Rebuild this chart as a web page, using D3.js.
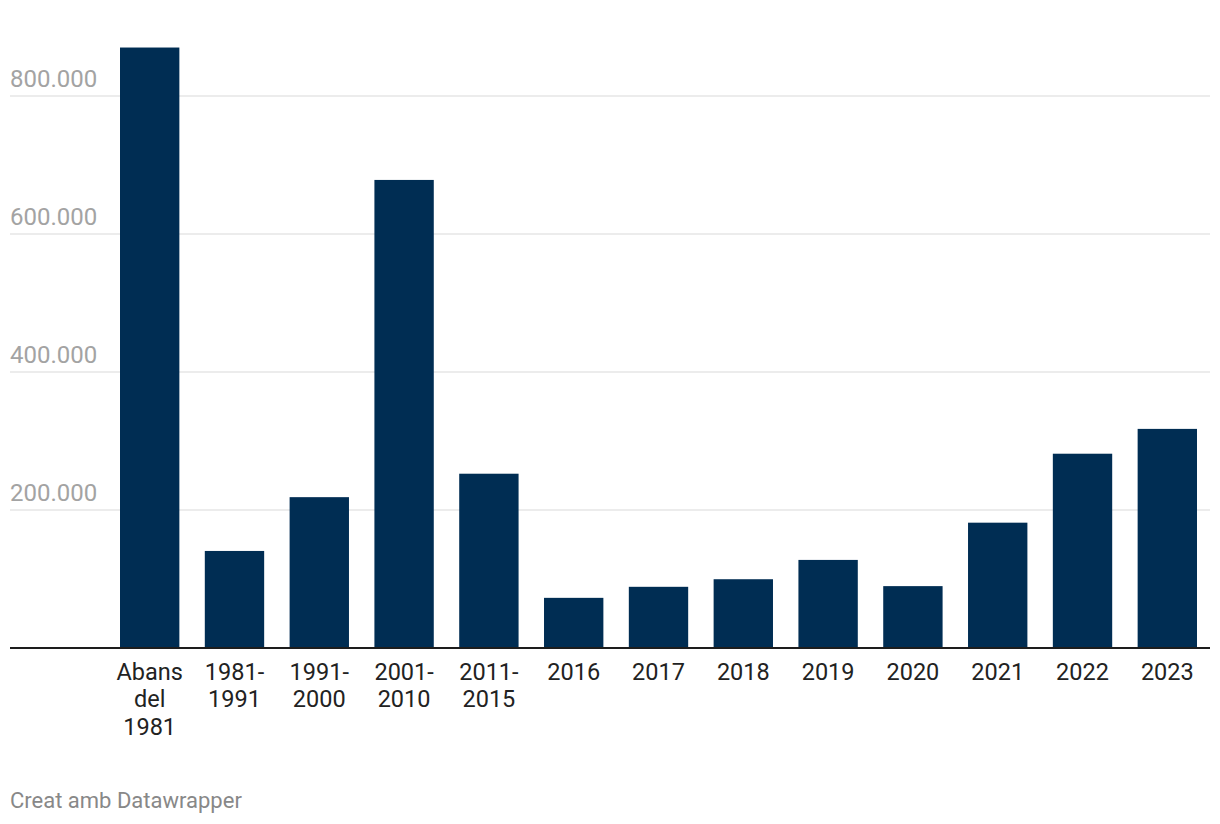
<!DOCTYPE html>
<html>
<head>
<meta charset="utf-8">
<script src="https://cdn.jsdelivr.net/npm/d3@7"></script>
<style>
  html, body { margin: 0; padding: 0; background: #fff; }
  svg { display: block; font-family: Roboto, "Noto Sans", sans-serif; }
</style>
</head>
<body>
<svg id="chart" width="1220" height="824"></svg>
<script>
const categories = ["Abans del 1981", "1981- 1991", "1991- 2000", "2001- 2010", "2011- 2015", "2016", "2017", "2018", "2019", "2020", "2021", "2022", "2023"];
const values = [870000, 140000, 218000, 678000, 252000, 72000, 88000, 99000, 127000, 89000, 181000, 281000, 317000];
const yTicks = [200000, 400000, 600000, 800000];
const tickLabels = ["200.000", "400.000", "600.000", "800.000"];
const footerText = "Creat amb Datawrapper";

const svg = d3.select("#chart");

const x = d3.scaleBand()
  .domain(categories)
  .range([120, 1197])
  .paddingInner(0.3)
  .paddingOuter(0);

const y = d3.scaleLinear()
  .domain([0, 800000])
  .range([647.5, 95.8]);

// gridlines
svg.append("g")
  .selectAll("line")
  .data(yTicks)
  .join("line")
  .attr("x1", 10)
  .attr("x2", 1210)
  .attr("y1", d => Math.round(y(d)))
  .attr("y2", d => Math.round(y(d)))
  .attr("stroke", "#e6e6e6")
  .attr("stroke-width", 1.6);

// tick labels
svg.append("g")
  .selectAll("text")
  .data(yTicks)
  .join("text")
  .attr("x", 10)
  .attr("y", d => y(d) - 9)
  .attr("fill", "#a3a3a3")
  .attr("font-size", 24)
  .text((d, i) => tickLabels[i]);

// bars
svg.append("g")
  .selectAll("rect")
  .data(values)
  .join("rect")
  .attr("x", (d, i) => x(categories[i]))
  .attr("width", x.bandwidth())
  .attr("y", d => y(d))
  .attr("height", d => y(0) - y(d))
  .attr("fill", "#002d53");

// baseline
svg.append("line")
  .attr("x1", 10)
  .attr("x2", 1210)
  .attr("y1", y(0) + 0.5)
  .attr("y2", y(0) + 0.5)
  .attr("stroke", "#1d1d1d")
  .attr("stroke-width", 2);

// category labels
const lab = svg.append("g")
  .selectAll("text")
  .data(categories)
  .join("text")
  .attr("text-anchor", "middle")
  .attr("fill", "#222")
  .attr("font-size", 23.5)
  .attr("x", d => x(d) + x.bandwidth() / 2)
  .attr("y", 679.5);

lab.each(function(d) {
  const parts = d.split(" ");
  const t = d3.select(this);
  const cx = x(d) + x.bandwidth() / 2;
  parts.forEach((p, i) => {
    t.append("tspan")
      .attr("x", cx)
      .attr("dy", i === 0 ? 0 : 27.5)
      .text(p);
  });
});

// footer
svg.append("text")
  .attr("x", 10)
  .attr("y", 807.5)
  .attr("fill", "#888")
  .attr("font-size", 22)
  .text(footerText);
</script>
</body>
</html>
